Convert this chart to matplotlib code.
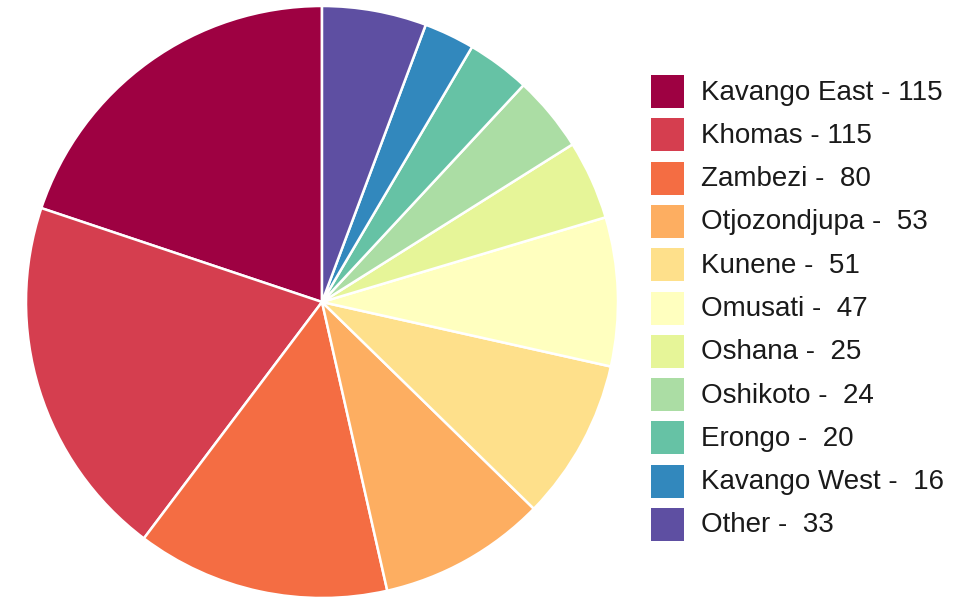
import matplotlib.pyplot as plt
from matplotlib.patches import Rectangle

plt.rcParams['font.family'] = ['Liberation Sans', 'DejaVu Sans']

regions = ['Kavango East', 'Khomas', 'Zambezi', 'Otjozondjupa', 'Kunene', 'Omusati',
           'Oshana', 'Oshikoto', 'Erongo', 'Kavango West', 'Other']
counts = [115, 115, 80, 53, 51, 47, 25, 24, 20, 16, 33]
colors = ['#9e0142', '#d53e4f', '#f46d43', '#fdae61', '#fee08b', '#ffffbf',
          '#e6f598', '#abdda4', '#66c2a5', '#3288bd', '#5e4fa2']

W, H = 961, 598
fig = plt.figure(figsize=(W / 100, H / 100), dpi=100)

# pie: centre ~ (322, 302) px, radius ~ 296 px
cx, cy, r = 322, 302, 296
ax = fig.add_axes([(cx - r) / W, (H - cy - r) / H, 2 * r / W, 2 * r / H])
ax.pie(counts, colors=colors, startangle=90, counterclock=True, radius=1,
       wedgeprops=dict(edgecolor='white', linewidth=1.8))
ax.set_xlim(-1, 1)
ax.set_ylim(-1, 1)
ax.set_aspect('auto')
ax.axis('off')

# legend drawn by hand in pixel coords
lax = fig.add_axes([0, 0, 1, 1])
lax.set_xlim(0, W)
lax.set_ylim(H, 0)
lax.axis('off')
y0, pitch, sq = 75, 43.3, 33
for i, (name, val) in enumerate(zip(regions, counts)):
    y = y0 + i * pitch
    lax.add_patch(Rectangle((651, y), sq, sq, facecolor=colors[i], edgecolor='none'))
    lax.text(701, y + sq / 2 + 1, f'{name} - {val:>3}', fontsize=20, va='center',
             ha='left', color='#1a1a1a')

fig.savefig('out.png', dpi=100)
